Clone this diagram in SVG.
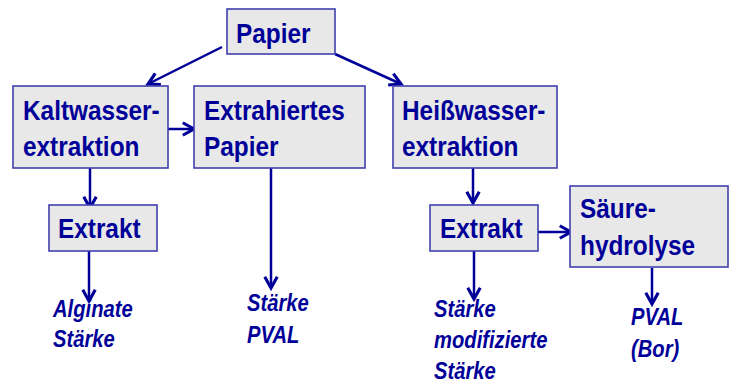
<svg xmlns="http://www.w3.org/2000/svg" width="729" height="383" viewBox="0 0 729 383">
<style>
.box{fill:#e8e8e8;stroke:#4040b0;stroke-width:1.6}
.t{font-family:"Liberation Sans",Arial,sans-serif;font-weight:bold;font-size:28px;fill:#000099}
.l{font-family:"Liberation Sans",Arial,sans-serif;font-weight:bold;font-style:italic;font-size:23.5px;fill:#000099}
.c{stroke:#000099;stroke-width:2.5;fill:none}
</style>
<defs>
<marker id="a" markerUnits="userSpaceOnUse" markerWidth="20" markerHeight="20" viewBox="-12 -8 14 16" refX="0" refY="0" orient="auto">
<path d="M-9,-5 L0,0 L-9,5" fill="none" stroke="#000099" stroke-width="2.5" stroke-linejoin="miter"/>
</marker>
</defs>
<rect width="729" height="383" fill="#ffffff"/>
<g id="connectors">
<line class="c" x1="222" y1="47" x2="148" y2="84" marker-end="url(#a)"/>
<line class="c" x1="335" y1="54" x2="401" y2="84" marker-end="url(#a)"/>
<line class="c" x1="163" y1="129" x2="194" y2="129" marker-end="url(#a)"/>
<line class="c" x1="90" y1="168" x2="90" y2="208" marker-end="url(#a)"/>
<line class="c" x1="89" y1="251" x2="89" y2="301" marker-end="url(#a)"/>
<line class="c" x1="271" y1="168" x2="271" y2="288" marker-end="url(#a)"/>
<line class="c" x1="473" y1="168" x2="473" y2="203" marker-end="url(#a)"/>
<line class="c" x1="474" y1="251" x2="474" y2="299" marker-end="url(#a)"/>
<line class="c" x1="534" y1="232" x2="571" y2="232" marker-end="url(#a)"/>
<line class="c" x1="652" y1="268" x2="652" y2="304" marker-end="url(#a)"/>
</g>
<g id="papier">
<rect class="box" x="227" y="9" width="108" height="45"/>
<text class="t" transform="translate(236,43) scale(0.87,1)">Papier</text>
</g>
<g id="kaltwasser">
<rect class="box" x="13" y="86" width="155" height="82"/>
<text class="t" transform="translate(23,120) scale(0.87,1)">Kaltwasser-</text>
<text class="t" transform="translate(23,156) scale(0.87,1)">extraktion</text>
</g>
<g id="extrahiert">
<rect class="box" x="194" y="86" width="171" height="82"/>
<text class="t" transform="translate(204,120) scale(0.87,1)">Extrahiertes</text>
<text class="t" transform="translate(204,156) scale(0.87,1)">Papier</text>
</g>
<g id="heisswasser">
<rect class="box" x="393" y="86" width="164" height="82"/>
<text class="t" transform="translate(402,120) scale(0.87,1)">Heißwasser-</text>
<text class="t" transform="translate(402,156) scale(0.87,1)">extraktion</text>
</g>
<g id="extrakt1">
<rect class="box" x="49" y="205" width="108" height="46"/>
<text class="t" transform="translate(58,238) scale(0.87,1)">Extrakt</text>
</g>
<g id="extrakt2">
<rect class="box" x="430" y="205" width="108" height="46"/>
<text class="t" transform="translate(440,238) scale(0.87,1)">Extrakt</text>
</g>
<g id="saeure">
<rect class="box" x="570" y="186" width="158" height="81"/>
<text class="t" transform="translate(580,218) scale(0.87,1)">Säure-</text>
<text class="t" transform="translate(580,255) scale(0.87,1)">hydrolyse</text>
</g>
<g id="label1">
<text class="l" transform="translate(53,317) scale(0.86,1)">Alginate</text>
<text class="l" transform="translate(53,347) scale(0.86,1)">Stärke</text>
</g>
<g id="label2">
<text class="l" transform="translate(247,311) scale(0.86,1)">Stärke</text>
<text class="l" transform="translate(247,343) scale(0.86,1)">PVAL</text>
</g>
<g id="label3">
<text class="l" transform="translate(434,317) scale(0.86,1)">Stärke</text>
<text class="l" transform="translate(434,348) scale(0.86,1)">modifizierte</text>
<text class="l" transform="translate(434,379) scale(0.86,1)">Stärke</text>
</g>
<g id="label4">
<text class="l" transform="translate(631,325) scale(0.86,1)">PVAL</text>
<text class="l" transform="translate(631,357) scale(0.86,1)">(Bor)</text>
</g>
</svg>
